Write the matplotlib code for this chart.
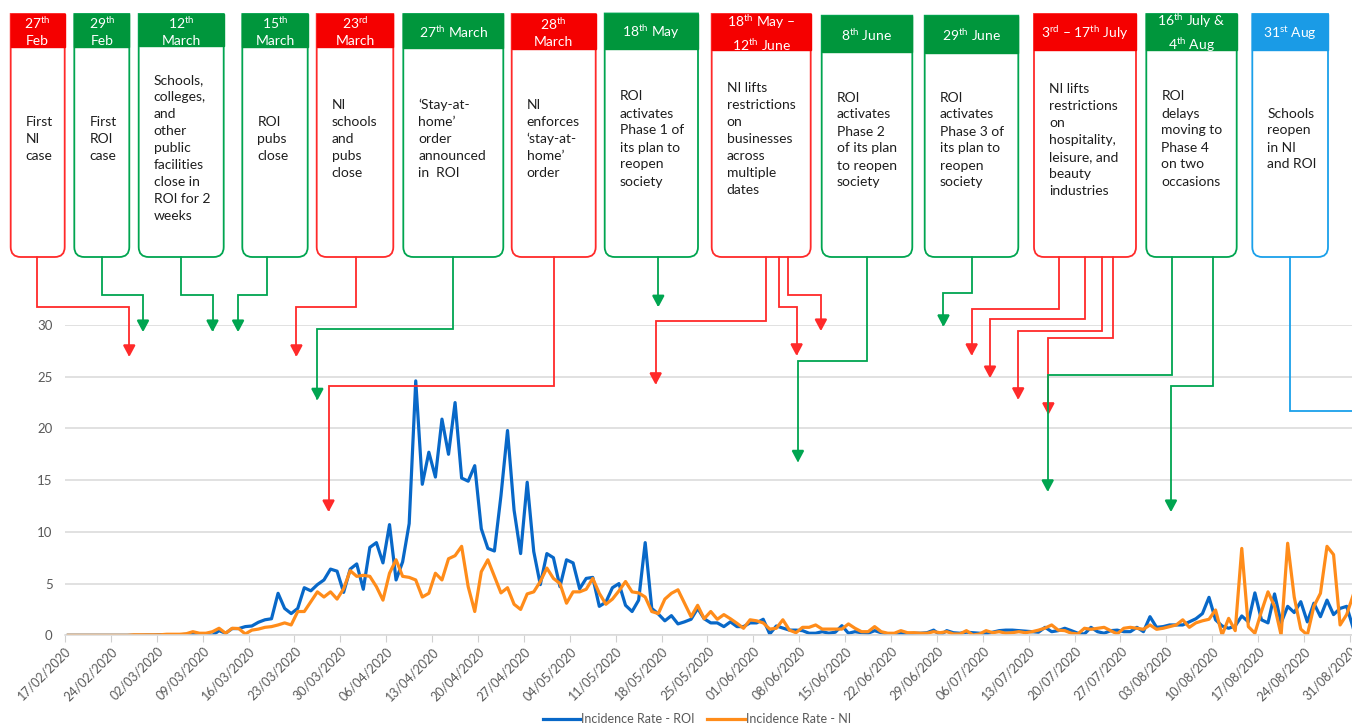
import numpy as np
import pandas as pd
import matplotlib
matplotlib.use("Agg")
import matplotlib.pyplot as plt
import matplotlib.dates as mdates
from matplotlib.path import Path
from matplotlib.patches import PathPatch, Rectangle, FancyArrowPatch

plt.rcParams['font.family'] = ['Lato', 'DejaVu Sans']
plt.rcParams['mathtext.fontset'] = 'custom'
plt.rcParams['mathtext.rm'] = 'Lato'
plt.rcParams['mathtext.it'] = 'Lato:italic'
plt.rcParams['mathtext.bf'] = 'Lato:bold'

# ---- data: daily incidence rate, 17/02/2020 .. 31/08/2020 ----
start = '2020-02-17'
roi = [0] * 12 + [
    0.02, 0.02, 0.05, 0.05, 0.05, 0.05,
    0.1, 0.15, 0.1, 0.05, 0.0,
    0.45, 0.2, 0.65, 0.65, 0.84, 0.9, 1.26,
    1.5, 1.6, 4.06, 2.6, 2.1, 2.6, 4.6, 4.3, 4.9, 5.35,
    6.4, 6.2, 4.15, 6.4, 6.9, 4.45, 8.5, 8.96, 7.0, 10.7,
    5.35, 7.1, 10.8, 24.6, 14.6, 17.7, 15.3, 20.9, 17.5, 22.5,
    15.2, 14.9, 16.4, 10.3, 8.4, 8.15, 13.5, 19.8, 12.1, 7.9,
    14.8, 8.1, 4.9, 7.9, 7.5, 4.7, 7.3, 7.0, 4.5, 5.5,
    5.6, 2.8, 3.2, 4.6, 5.0, 2.9, 2.3, 3.4, 8.96, 2.6,
    2.06, 1.4, 1.9, 1.1, 1.3, 1.55, 2.6, 1.6, 1.2, 1.2,
    0.84, 1.3, 0.84, 0.84, 1.2, 1.2, 1.55, 0.13, 0.9, 0.7,
    0.5, 0.5, 0.45, 0.2, 0.2, 0.35, 0.2, 0.3, 0.93, 0.2,
    0.35, 0.25, 0.2, 0.45, 0.25, 0.13, 0.13, 0.2, 0.13, 0.2,
    0.2, 0.25, 0.5, 0.03, 0.45, 0.25, 0.2, 0.3, 0.25, 0.2,
    0.15, 0.3, 0.45, 0.5, 0.5, 0.45, 0.4, 0.35, 0.3,
    0.77, 0.35, 0.45, 0.68, 0.45, 0.2, 0.13, 0.77, 0.35, 0.2,
    0.45, 0.5, 0.35, 0.35, 0.77, 0.35, 1.8, 0.77, 0.84, 1.0,
    1.0, 1.0, 1.3, 1.6, 2.1, 3.67, 1.5, 0.9, 0.68, 0.9,
    1.87, 1.3, 4.1, 1.5, 1.2, 4.0, 1.2, 2.8, 2.2, 3.25,
    1.3, 3.1, 1.8, 3.4, 2.0, 2.6, 2.8, 0.7]
ni = [0] * 10 + [
    0.05, 0.05, 0.05, 0.05, 0.05, 0.1, 0.1, 0.1, 0.15,
    0.35, 0.2, 0.2, 0.35, 0.68, 0.2, 0.68, 0.65, 0.13, 0.5, 0.6,
    0.77, 0.84, 1.0, 1.2, 1.0, 2.3, 2.3, 3.25, 4.2, 3.7,
    4.2, 3.5, 4.5, 6.25, 5.7, 5.8, 5.7, 4.7, 3.4, 6.0,
    7.3, 5.7, 5.6, 5.35, 3.7, 4.06, 6.0, 5.35, 7.4, 7.7,
    8.6, 4.7, 2.3, 6.15, 7.3, 5.7, 4.1, 4.6, 3.0, 2.5,
    4.0, 4.2, 5.2, 6.5, 5.5, 5.0, 3.1, 4.2, 4.2, 4.45,
    5.5, 4.06, 3.0, 3.5, 4.3, 5.2, 4.2, 4.1, 3.7, 2.3,
    2.1, 3.5, 4.06, 4.4, 3.1, 1.8, 2.9, 1.6, 2.3, 1.55,
    2.0, 1.6, 1.16, 0.68, 1.5, 1.4, 1.2, 0.6, 0.68, 1.5,
    0.5, 0.25, 0.77, 0.77, 1.0, 0.6, 0.6, 0.6, 0.6, 1.1,
    0.68, 0.35, 0.35, 0.84, 0.35, 0.2, 0.2, 0.45, 0.25, 0.25,
    0.2, 0.2, 0.35, 0.25, 0.35, 0.13, 0.13, 0.45, 0.03, 0.13,
    0.45, 0.25, 0.35, 0.2, 0.25, 0.35, 0.25, 0.35, 0.5, 0.7,
    1.0, 0.5, 0.45, 0.2, 0.13, 0.68, 0.58, 0.68, 0.77, 0.45,
    0.13, 0.68, 0.77, 0.68, 0.58, 1.0, 0.58, 0.68, 0.84, 1.0,
    1.5, 0.77, 1.2, 1.4, 1.55, 2.45, 0.03, 1.64, 0.45, 8.4,
    0.84, 0.2, 2.3, 4.2, 2.8, 0.03, 8.9, 3.7, 0.6, 0.03,
    2.8, 4.06, 8.6, 7.8, 1.0, 2.0, 3.9]

# ---- timeline boxes ----
headers = [r"27$^{\mathrm{th}}$" + "\nFeb", r"29$^{\mathrm{th}}$" + "\nFeb",
           r"12$^{\mathrm{th}}$" + "\nMarch", r"15$^{\mathrm{th}}$" + "\nMarch",
           r"23$^{\mathrm{rd}}$" + "\nMarch", r"27$^{\mathrm{th}}$ March",
           r"28$^{\mathrm{th}}$" + "\nMarch", r"18$^{\mathrm{th}}$ May",
           r"18$^{\mathrm{th}}$ May –" + "\n" + r"12$^{\mathrm{th}}$ June",
           r"8$^{\mathrm{th}}$ June", r"29$^{\mathrm{th}}$ June",
           r"3$^{\mathrm{rd}}$ – 17$^{\mathrm{th}}$ July",
           r"16$^{\mathrm{th}}$ July &" + "\n" + r"4$^{\mathrm{th}}$ Aug",
           r"31$^{\mathrm{st}}$ Aug"]
bodies = ["First\nNI\ncase", "First\nROI\ncase",
          "Schools,\ncolleges,\nand\nother\npublic\nfacilities\nclose in\nROI for 2\nweeks",
          "ROI\npubs\nclose", "NI\nschools\nand\npubs\nclose",
          "‘Stay-at-\nhome’\norder\nannounced\nin  ROI",
          "NI\nenforces\n‘stay-at-\nhome’\norder",
          "ROI\nactivates\nPhase 1 of\nits plan to\nreopen\nsociety",
          "NI lifts\nrestrictions\non\nbusinesses\nacross\nmultiple\ndates",
          "ROI\nactivates\nPhase 2\nof its plan\nto reopen\nsociety",
          "ROI\nactivates\nPhase 3 of\nits plan to\nreopen\nsociety",
          "NI lifts\nrestrictions\non\nhospitality,\nleisure, and\nbeauty\nindustries",
          "ROI\ndelays\nmoving to\nPhase 4\non two\noccasions",
          "Schools\nreopen\nin NI\nand ROI"]
box_kind = ['ni', 'roi', 'roi', 'roi', 'ni', 'roi', 'ni', 'roi', 'ni', 'roi', 'roi', 'ni', 'roi', 'both']

# arrows: which box, where they point (day offset from start, incidence value)
arrow_box = [0, 1, 2, 3, 4, 5, 6, 7, 8, 8, 8, 9, 10, 11, 11, 11, 11, 12, 12, 13]
tip_day = [9.8, 11.9, 22.5, 26.4, 35.3, 38.5, 40.2, 90.5, 90.1, 111.6, 115.3,
           111.8, 134.0, 138.3, 141.1, 145.4, 150.0, 149.9, 168.7, 199]
tip_val = [26.9, 29.3, 29.3, 29.3, 26.9, 22.7, 11.9, 31.7, 24.2, 27.0, 29.4,
           16.7, 29.8, 27.0, 24.85, 22.75, 21.3, 13.85, 11.9, 21.7]

# ---- layout (pixels) ----
W, H = 1352, 727
box_left = [10.7, 74.3, 138.7, 242.3, 316.7, 403.3, 511.7, 604.7, 711.7, 821.7, 924.7, 1034, 1146.3, 1252.3]
box_right = [64.7, 129.3, 223.7, 307.7, 393.3, 503.3, 595.7, 698, 810.7, 912.3, 1018.3, 1136, 1236.7, 1328]
box_top = [14, 14, 14, 14, 14, 14, 14, 13.5, 14, 15.7, 15.7, 14, 14, 14]
head_bot = [46.7, 46.7, 45.7, 47, 47, 47.7, 49, 49.3, 50.3, 51.7, 52.7, 50, 50, 50]
box_bot = 257
body_y = [139, 139, 148, 139, 139, 139, 139, 139, 139, 140, 140, 140, 139, 139]
arrow_x0 = [37, 101.7, 181.3, 267.3, 355.7, 453.3, 554, 658.3, 766, 779.3, 787.7,
            867.3, 971.7, 1059, 1085.3, 1102.3, 1113.3, 1171.7, 1213.3, 1290]
arrow_ey = [307.3, 294.7, 294.7, 294.7, 307.3, 329.3, 386, 300, 321.3, 307.3, 295.3,
            360.7, 293.3, 309, 319, 330.7, 338, 375.3, 386, 411.3]

head_col = {'ni': '#F50000', 'roi': '#00963C', 'both': '#1A9BE6'}
edge_col = {'ni': '#FF2A2A', 'roi': '#00A550', 'both': '#1AA0EA'}

fig = plt.figure(figsize=(W / 100, H / 100), dpi=100)
ax = fig.add_axes([65 / W, (H - 635.3) / H, 1291.5 / W, (635.3 - 325) / H])

x0 = mdates.date2num(pd.Timestamp(start))
days = x0 + np.arange(len(roi)) + 0.5
l1, = ax.plot(days, roi, color='#0868C8', lw=2.3, solid_joinstyle='round', label='Incidence Rate - ROI')
l2, = ax.plot(days, ni, color='#FF8C1A', lw=2.3, solid_joinstyle='round', label='Incidence Rate - NI')

ax.set_xlim(x0, x0 + 197)
ax.set_ylim(0, 30)
ax.set_yticks(range(0, 31, 5))
ax.set_xticks(x0 + np.arange(0, 197, 7))
ax.xaxis.set_major_formatter(mdates.DateFormatter('%d/%m/%Y'))
ax.tick_params(axis='y', length=0, labelsize=9.5, labelcolor='#595959', pad=9)
ax.tick_params(axis='x', length=5, color='#D0D0D0', labelsize=9, labelcolor='#595959', pad=2)
plt.setp(ax.get_xticklabels(), rotation=45, ha='right', rotation_mode='anchor')
ax.yaxis.grid(True, color='#D9D9D9', lw=1.1)
ax.set_axisbelow(True)
for s in ['left', 'right', 'top']:
    ax.spines[s].set_visible(False)
ax.spines['bottom'].set_color('#D9D9D9')
ax.spines['bottom'].set_linewidth(1.1)
ax.set_facecolor('none')

fig.legend(handles=[l1, l2], loc='center', bbox_to_anchor=(697 / W, (H - 719) / H), ncol=2,
           frameon=False, fontsize=9, labelcolor='#595959', handlelength=3.0,
           columnspacing=1.0, handletextpad=0.1)

# overlay in pixel coordinates for the timeline boxes
ov = fig.add_axes([0, 0, 1, 1], zorder=5)
ov.set_xlim(0, W)
ov.set_ylim(H, 0)
ov.axis('off')


def box_path(l, r, t, b, rad=10):
    verts = [(l, t), (r, t), (r, b - rad), (r, b), (r - rad, b), (l + rad, b),
             (l, b), (l, b - rad), (l, t)]
    codes = [Path.MOVETO, Path.LINETO, Path.LINETO, Path.CURVE3, Path.CURVE3,
             Path.LINETO, Path.CURVE3, Path.CURVE3, Path.CLOSEPOLY]
    return Path(verts, codes)


for i in range(len(headers)):
    k = box_kind[i]
    l, r, t = box_left[i], box_right[i], box_top[i]
    ov.add_patch(PathPatch(box_path(l, r, t, box_bot), fc='white', ec=edge_col[k], lw=1.3))
    ov.add_patch(Rectangle((l, t), r - l, head_bot[i] - t, fc=head_col[k], ec=head_col[k], lw=1.0))
    ov.text((l + r) / 2, (t + head_bot[i]) / 2 + 1, headers[i], ha='center', va='center',
            color='white', fontsize=10, linespacing=1.4)
    ov.text(l + 15, body_y[i], bodies[i], ha='left', va='center', color='#1E1E1E',
            fontsize=10, linespacing=1.5)

inv = ov.transData.inverted()
for j in range(len(arrow_box)):
    k = box_kind[arrow_box[j]]
    tx, ty = inv.transform(ax.transData.transform((x0 + tip_day[j], tip_val[j])))
    verts = [(arrow_x0[j], box_bot), (arrow_x0[j], arrow_ey[j]), (tx, arrow_ey[j]), (tx, ty)]
    codes = [Path.MOVETO, Path.LINETO, Path.LINETO, Path.LINETO]
    ov.add_patch(FancyArrowPatch(path=Path(verts, codes),
                                 arrowstyle='-|>,head_length=0.6,head_width=0.32',
                                 mutation_scale=12, color=edge_col[k], lw=1.3,
                                 joinstyle='miter'))

fig.savefig('out.png', dpi=100, facecolor='white')
